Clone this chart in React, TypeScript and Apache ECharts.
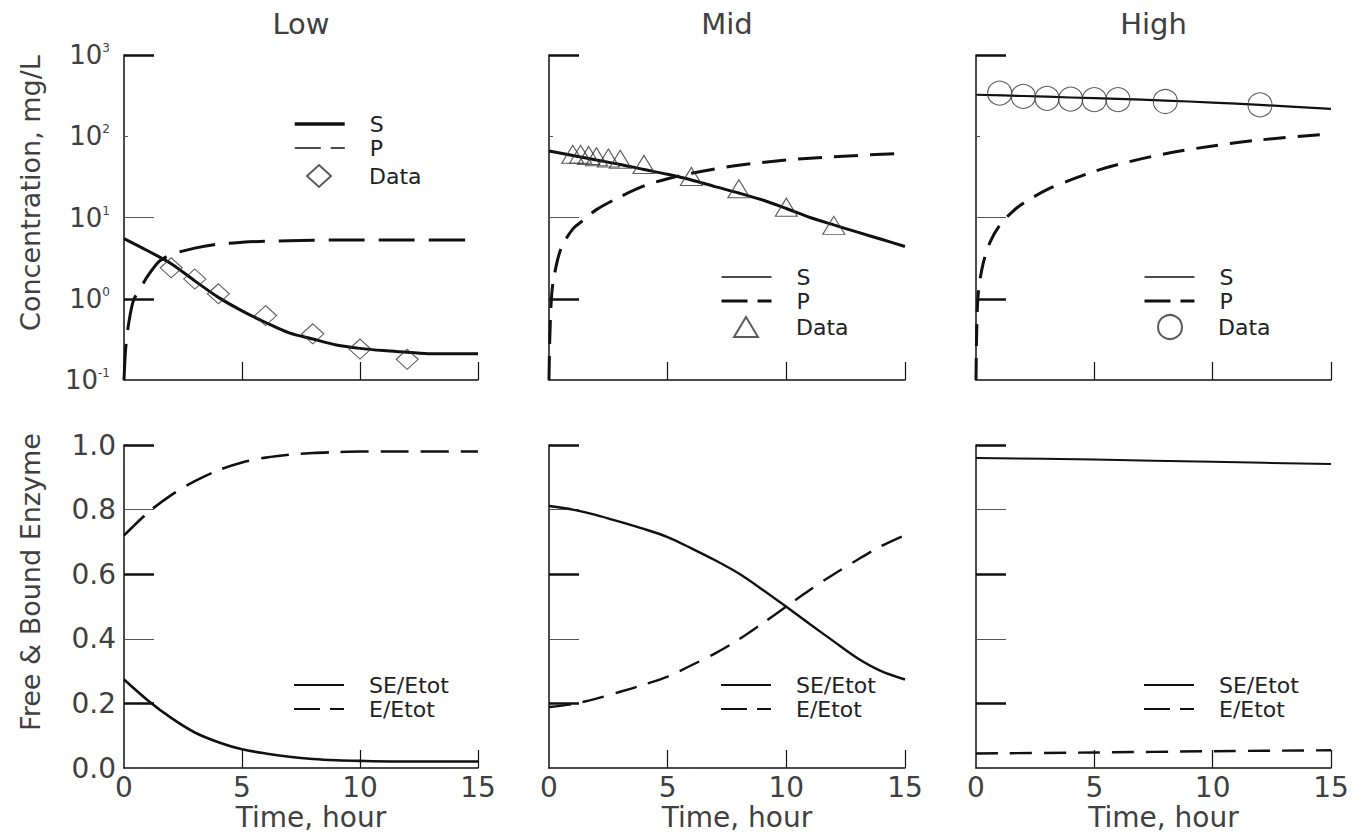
import React, { useEffect, useRef } from 'react';
import * as echarts from 'echarts';

const FONT = '"DejaVu Sans", Verdana, sans-serif';
const INK = '#111';
const TXT = '#404040';

// ---------- panel titles / axis names ----------
const panelTitles = ['Low', 'Mid', 'High'];
const topYName = 'Concentration, mg/L';
const bottomYName = 'Free & Bound Enzyme';
const xName = 'Time, hour';

// ---------- tick values ----------
const timeTicks = [0, 5, 10, 15];
const concTicks = [0.1, 1, 10, 100, 1000];
const fracTicks = [0, 0.2, 0.4, 0.6, 0.8, 1.0];

// ---------- Low: concentration ----------
const lowSTime = [0, 1, 2, 3, 4, 5, 6, 7, 8, 9, 10, 11, 12, 13, 14, 15];
const lowS = [5.5, 3.9, 2.7, 1.66, 1.04, 0.71, 0.51, 0.38, 0.32, 0.27, 0.245, 0.23, 0.22, 0.21, 0.21, 0.21];
const lowPTime = [0, 0.05, 0.1, 0.2, 0.4, 0.7, 1, 1.5, 2, 3, 4, 5, 6, 8, 10, 12, 15];
const lowP = [0.1, 0.2, 0.3, 0.5, 0.95, 1.35, 1.9, 2.9, 3.5, 4.2, 4.7, 4.95, 5.1, 5.25, 5.3, 5.3, 5.3];
const lowDataTime = [2, 3, 4, 6, 8, 10, 12];
const lowData = [2.4, 1.75, 1.15, 0.62, 0.37, 0.24, 0.18];

// ---------- Mid: concentration ----------
const midSTime = [0, 1, 2, 3, 4, 5, 6, 7, 8, 9, 10, 11, 12, 13, 14, 15];
const midS = [66, 58, 51, 45, 39, 34, 29, 24, 20, 16.4, 12.9, 10, 8.1, 6.6, 5.4, 4.4];
const midPTime = [0, 0.03, 0.1, 0.2, 0.5, 1, 1.5, 2, 3, 4, 5, 6, 8, 10, 12, 15];
const midP = [0.1, 0.3, 1.0, 1.8, 4.1, 7.2, 9.5, 12.5, 18, 24.5, 30, 35, 44, 51, 56, 62];
const midDataTime = [1, 1.33, 1.67, 2, 2.5, 3, 4, 6, 8, 10, 12];
const midData = [60, 60, 58, 56, 54, 52, 45, 32, 22.6, 13.4, 8];

// ---------- High: concentration ----------
const highSTime = [0, 2, 4, 6, 8, 10, 12, 15];
const highS = [324, 313, 300, 288, 275, 260, 243, 217];
const highPTime = [0, 0.03, 0.1, 0.3, 0.6, 1, 1.5, 2, 3, 4, 5, 6, 8, 10, 12, 15];
const highP = [0.1, 0.4, 1.2, 2.7, 5, 8, 11.5, 15, 22, 29, 37, 45, 61, 76, 90, 107];
const highDataTime = [1, 2, 3, 4, 5, 6, 8, 12];
const highData = [339, 309, 293, 286, 282, 282, 268, 243];

// ---------- enzyme fractions ----------
const lowETime = [0, 1, 2, 3, 4, 5, 6, 7, 8, 9, 10, 12, 15];
const lowSE = [0.274, 0.21, 0.155, 0.11, 0.08, 0.058, 0.045, 0.035, 0.028, 0.024, 0.022, 0.02, 0.02];
const lowE = [0.72, 0.79, 0.845, 0.888, 0.922, 0.946, 0.961, 0.97, 0.975, 0.978, 0.98, 0.98, 0.98];
const midETime = [0, 1, 2, 3, 4, 5, 6, 7, 8, 9, 10, 11, 12, 13, 14, 15];
const midSE = [0.811, 0.8, 0.783, 0.762, 0.74, 0.715, 0.68, 0.643, 0.602, 0.552, 0.499, 0.445, 0.392, 0.34, 0.3, 0.274];
const midE = [0.189, 0.198, 0.215, 0.236, 0.258, 0.283, 0.318, 0.355, 0.398, 0.448, 0.5, 0.552, 0.6, 0.645, 0.687, 0.721];
const highETime = [0, 5, 10, 15];
const highSE = [0.96, 0.955, 0.948, 0.941];
const highE = [0.045, 0.048, 0.052, 0.055];

// ---------- layout ----------
const colLeft = [124, 549, 976];
const colWidth = [354, 356, 355];
const topRow = { top: 55, height: 325 };
const botRow = { top: 445, height: 323 };

function pairs(xs: number[], ys: number[]) {
  return xs.map((x, i) => [x, ys[i]]);
}

function buildOption() {
  const grid: any[] = [];
  const xAxis: any[] = [];
  const yAxis: any[] = [];
  const mainY: number[] = [];

  for (let r = 0; r < 2; r++) {
    for (let c = 0; c < 3; c++) {
      const g = r * 3 + c;
      const row = r === 0 ? topRow : botRow;
      grid.push({ left: colLeft[c], top: row.top, width: colWidth[c], height: row.height, containLabel: false });
      xAxis.push({
        type: 'value', gridIndex: g, min: 0, max: 15, interval: 5,
        axisLine: { show: true, lineStyle: { color: INK, width: 1.5 } },
        axisTick: { show: true, inside: true, length: 18, customValues: [5, 10, 15], lineStyle: { color: INK, width: 1.2 } },
        axisLabel: r === 0 ? { show: false } : {
          show: true, customValues: timeTicks, fontFamily: FONT, fontSize: 28, color: TXT, margin: 5,
        },
        splitLine: { show: false },
      });
      const base: any = r === 0
        ? { type: 'log', logBase: 10, min: 0.1, max: 1000 }
        : { type: 'value', min: 0, max: 1, interval: 0.2 };
      mainY[g] = yAxis.length;
      yAxis.push({
        ...base, gridIndex: g, position: 'left',
        axisLine: { show: true, lineStyle: { color: INK, width: 1.5 } },
        axisTick: { show: true, inside: true, length: 30, customValues: r === 0 ? [10] : [0.4, 0.8], lineStyle: { color: '#555', width: 1 } },
        axisLabel: c !== 0 ? { show: false } : r === 0 ? {
          show: true, customValues: concTicks, margin: 14,
          formatter: (v: number) => `{b|10}{s|${Math.round(Math.log10(v))}}`,
          rich: {
            b: { fontFamily: FONT, fontSize: 26, color: TXT },
            s: { fontFamily: FONT, fontSize: 12, color: TXT, verticalAlign: 'top' },
          },
        } : {
          show: true, customValues: fracTicks, margin: 8, fontFamily: FONT, fontSize: 28, color: TXT,
          formatter: (v: number) => v.toFixed(1),
        },
        splitLine: { show: false },
      });
      // thick major ticks
      yAxis.push({
        ...base, gridIndex: g, position: 'left',
        axisLine: { show: false }, axisLabel: { show: false }, splitLine: { show: false },
        axisTick: { show: true, inside: true, length: 30, customValues: r === 0 ? [1, 1000] : [0.2, 0.6, 1.0], lineStyle: { color: INK, width: 2.5 } },
      });
      if (r === 0) {
        yAxis.push({
          ...base, gridIndex: g, position: 'left',
          axisLine: { show: false }, axisLabel: { show: false }, splitLine: { show: false },
          axisTick: { show: true, inside: true, length: 4, customValues: [100], lineStyle: { color: '#555', width: 1 } },
        });
      }
    }
  }

  const line = (name: string, g: number, xs: number[], ys: number[], width: number, dash?: any) => ({
    type: 'line', name, xAxisIndex: g, yAxisIndex: mainY[g], data: pairs(xs, ys),
    symbol: 'none', smooth: 0.3, silent: true, z: 3,
    itemStyle: { color: INK },
    lineStyle: { color: INK, width, type: dash || 'solid' },
  });
  const scat = (name: string, g: number, xs: number[], ys: number[], symbol: string, size: any) => ({
    type: 'scatter', name, xAxisIndex: g, yAxisIndex: mainY[g], data: pairs(xs, ys),
    symbol, symbolSize: size, symbolKeepAspect: true, silent: true, z: 4,
    itemStyle: { color: 'rgba(255,255,255,0)', borderColor: '#333', borderWidth: 1.1 },
  });

  const series = [
    line('S#0', 0, lowSTime, lowS, 3),
    line('P#0', 0, lowPTime, lowP, 3, [36, 14]),
    scat('Data#0', 0, lowDataTime, lowData, 'diamond', [22, 20]),
    line('S#1', 1, midSTime, midS, 3),
    line('P#1', 1, midPTime, midP, 3, [24, 12]),
    scat('Data#1', 1, midDataTime, midData, 'triangle', [22, 18]),
    line('S#2', 2, highSTime, highS, 2.2),
    line('P#2', 2, highPTime, highP, 3, [22, 12]),
    scat('Data#2', 2, highDataTime, highData, 'circle', 24),
    line('SE/Etot#3', 3, lowETime, lowSE, 2.6),
    line('E/Etot#3', 3, lowETime, lowE, 2.6, [28, 12]),
    line('SE/Etot#4', 4, midETime, midSE, 2.4),
    line('E/Etot#4', 4, midETime, midE, 2.4, [22, 12]),
    line('SE/Etot#5', 5, highETime, highSE, 2),
    line('E/Etot#5', 5, highETime, highE, 2.4, [22, 12]),
  ];

  const hide = { opacity: 0 };
  const legendText = { fontFamily: FONT, fontSize: 22, color: '#222', lineHeight: 22 };
  const legendBase = {
    orient: 'vertical', itemWidth: 50, itemHeight: 14, itemGap: 2, selectedMode: false,
    formatter: (n: string) => n.split('#')[0],
    textStyle: { ...legendText, padding: [0, 0, 0, 20] },
  };
  // marker legends: icon box sized like the marker, text aligned with the line legends
  const markerLegend = (name: string, iconLeft: number, iconW: number, iconH: number, top: number, textX: number) => ({
    orient: 'vertical', selectedMode: false, left: iconLeft, top,
    itemWidth: iconW, itemHeight: iconH,
    formatter: (n: string) => n.split('#')[0],
    textStyle: { ...legendText, padding: [0, 0, 0, textX - (iconLeft + iconW + 5)] },
    data: [{ name }],
  });
  const legendLeft = [288, 715, 1138];
  const legend = [
    { ...legendBase, left: legendLeft[0], top: 108, data: [
      { name: 'S#0', itemStyle: hide, lineStyle: { width: 3.5, type: 'solid' } },
      { name: 'P#0', itemStyle: hide, lineStyle: { width: 1.3, type: [26, 10] } },
    ] },
    markerLegend('Data#0', 301, 24, 22, 159, 363),
    { ...legendBase, left: legendLeft[1], top: 261, data: [
      { name: 'S#1', itemStyle: hide, lineStyle: { width: 1.3, type: 'solid' } },
      { name: 'P#1', itemStyle: hide, lineStyle: { width: 3, type: [26, 10] } },
    ] },
    markerLegend('Data#1', 728, 24, 20, 311, 790),
    { ...legendBase, left: legendLeft[2], top: 261, data: [
      { name: 'S#2', itemStyle: hide, lineStyle: { width: 1.3, type: 'solid' } },
      { name: 'P#2', itemStyle: hide, lineStyle: { width: 3, type: [26, 10] } },
    ] },
    markerLegend('Data#2', 1152, 24, 24, 309, 1212),
    ...[3, 4, 5].map((g, i) => ({
      ...legendBase, left: legendLeft[i], top: 669, data: [
        { name: `SE/Etot#${g}`, itemStyle: hide, lineStyle: { width: 2, type: 'solid' } },
        { name: `E/Etot#${g}`, itemStyle: hide, lineStyle: { width: 2, type: [26, 10] } },
      ],
    })),
  ];

  const graphic: any[] = [];
  panelTitles.forEach((t, c) => {
    graphic.push({
      type: 'text', x: colLeft[c] + colWidth[c] / 2, y: 24,
      style: { text: t, font: `29px ${FONT}`, fill: TXT, textAlign: 'center', textVerticalAlign: 'middle' },
    });
    graphic.push({
      type: 'text', x: colLeft[c] + colWidth[c] / 2 + 10, y: 817,
      style: { text: xName, font: `28px ${FONT}`, fill: TXT, textAlign: 'center', textVerticalAlign: 'middle' },
    });
  });
  graphic.push({
    type: 'text', x: 30, y: 193, rotation: Math.PI / 2,
    style: { text: topYName, font: `27px ${FONT}`, fill: TXT, textAlign: 'center', textVerticalAlign: 'middle' },
  });
  graphic.push({
    type: 'text', x: 30, y: 582, rotation: Math.PI / 2,
    style: { text: bottomYName, font: `27px ${FONT}`, fill: TXT, textAlign: 'center', textVerticalAlign: 'middle' },
  });

  return {
    animation: false,
    backgroundColor: '#fff',
    grid, xAxis, yAxis, series, legend, graphic,
  };
}

export default function App() {
  const ref = useRef<HTMLDivElement>(null);
  useEffect(() => {
    if (!ref.current) return;
    const chart = echarts.init(ref.current, null, { renderer: 'svg' });
    chart.setOption(buildOption() as any);
    return () => chart.dispose();
  }, []);
  return <div ref={ref} style={{ position: 'absolute', left: 0, top: 0, width: 1371, height: 836 }} />;
}
